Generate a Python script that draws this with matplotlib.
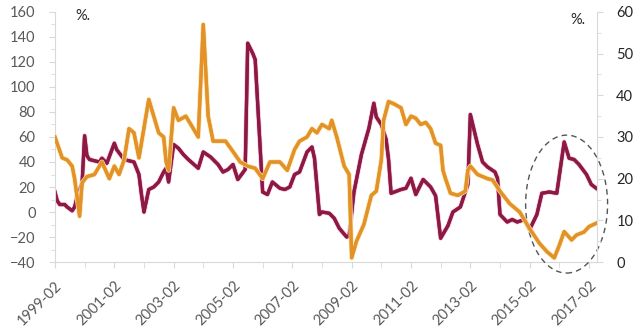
import matplotlib
matplotlib.use('Agg')
import matplotlib.pyplot as plt
import matplotlib.dates as mdates
import matplotlib.patheffects as pe
from matplotlib.patches import Ellipse
from matplotlib.ticker import MultipleLocator
import pandas as pd

plt.rcParams['font.family'] = ['Lato', 'DejaVu Sans']

# crimson series, left axis (%)
red_dates = ['1999-02', '1999-03', '1999-04', '1999-06', '1999-07', '1999-09', '1999-10', '1999-11',
             '2000-01', '2000-02', '2000-03', '2000-04', '2000-06', '2000-08', '2000-09', '2000-11',
             '2001-02', '2001-03', '2001-06', '2001-10', '2001-12', '2002-01', '2002-02', '2002-04',
             '2002-06', '2002-08', '2002-10', '2002-11', '2002-12', '2003-02', '2003-04', '2003-06',
             '2003-08', '2003-12', '2004-02', '2004-05', '2004-08', '2004-10', '2004-12', '2005-02',
             '2005-04', '2005-07', '2005-08', '2005-10', '2005-11', '2006-02', '2006-04', '2006-06',
             '2006-09', '2006-11', '2007-01', '2007-03', '2007-05', '2007-08', '2007-10', '2007-11',
             '2008-01', '2008-02', '2008-05', '2008-07', '2008-09', '2008-12', '2009-01', '2009-03',
             '2009-06', '2009-09', '2009-11', '2009-12', '2010-02', '2010-04', '2010-05', '2010-06',
             '2010-10', '2010-12', '2011-02', '2011-04', '2011-07', '2011-10', '2011-12', '2012-02',
             '2012-05', '2012-07', '2012-10', '2012-12', '2013-01', '2013-02', '2013-04', '2013-05',
             '2013-07', '2013-09', '2013-12', '2014-01', '2014-02', '2014-05', '2014-07', '2014-09',
             '2014-12', '2015-01', '2015-02', '2015-05', '2015-07', '2015-10', '2016-01', '2016-04',
             '2016-06', '2016-08', '2016-10', '2017-01', '2017-03', '2017-05']
red_vals = [16, 9, 6, 6, 4, 1, 4, 12,
            23, 61, 45, 42, 41, 40, 43, 39,
            55, 50, 42, 40, 30, 14, 0, 18,
            20, 24, 32, 35, 24, 54, 51, 46,
            42, 35, 48, 44, 38, 32, 34, 38,
            26, 34, 135, 127, 122, 16, 14, 24,
            19, 18, 20, 30, 32, 48, 52, 43,
            -2, 0, -1, -5, -13, -20, -19, 16,
            46, 67, 87, 76, 70, 58, 42, 15,
            18, 19, 27, 14, 26, 20, 13, -21,
            -11, 0, 4, 16, 22, 78, 62, 54,
            40, 36, 32, 27, -2, -8, -6, -8,
            -6, -10, -14, -2, 15, 16, 15, 56,
            43, 42, 38, 30, 22, 19]

# orange series, right axis (%)
org_dates = ['1999-02', '1999-05', '1999-07', '1999-09', '1999-10', '1999-12', '2000-01', '2000-03',
             '2000-06', '2000-08', '2000-09', '2000-12', '2001-02', '2001-04', '2001-06', '2001-08',
             '2001-10', '2001-12', '2002-04', '2002-08', '2002-10', '2002-11', '2002-12', '2003-02',
             '2003-04', '2003-07', '2003-09', '2003-12', '2004-02', '2004-04', '2004-06', '2004-09',
             '2004-11', '2005-02', '2005-05', '2005-08', '2005-11', '2006-02', '2006-05', '2006-09',
             '2006-12', '2007-03', '2007-05', '2007-08', '2007-10', '2007-12', '2008-02', '2008-05',
             '2008-06', '2008-08', '2008-11', '2009-01', '2009-02', '2009-04', '2009-07', '2009-10',
             '2009-12', '2010-02', '2010-03', '2010-05', '2010-07', '2010-10', '2010-12', '2011-02',
             '2011-04', '2011-06', '2011-08', '2011-10', '2011-12', '2012-02', '2012-03', '2012-04',
             '2012-06', '2012-09', '2012-12', '2013-01', '2013-02', '2013-05', '2013-09', '2013-11',
             '2014-02', '2014-06', '2014-10', '2015-02', '2015-06', '2015-09', '2015-12', '2016-02',
             '2016-04', '2016-07', '2016-09', '2016-12', '2017-02', '2017-05']
org_vals = [30, 25, 24.5, 23, 20, 11, 19, 20.5,
            21, 23, 24, 20, 23, 21, 24.5, 32,
            31, 25, 39, 31, 30, 24, 22, 37,
            34, 35, 33, 30, 57, 35, 29, 29,
            29, 26.5, 24, 23, 22.5, 20, 24, 24,
            22, 27, 29, 30, 32, 31, 33, 32,
            34, 30, 23, 21, 1, 5, 9, 16,
            17, 24.5, 34, 38.5, 38, 37, 33, 35,
            34.5, 33, 33.5, 32, 28.5, 28, 22, 20,
            16.5, 16, 17, 22, 23, 21, 20, 19.7,
            17, 14, 12, 8, 4.5, 2.5, 1, 4,
            7.3, 5.3, 6.5, 7.2, 8.5, 9.3]

tick_labels = ['1999-02', '2001-02', '2003-02', '2005-02', '2007-02',
               '2009-02', '2011-02', '2013-02', '2015-02', '2017-02']

red_x = pd.to_datetime(red_dates)
org_x = pd.to_datetime(org_dates)

fig = plt.figure(figsize=(6.39, 3.29), dpi=100)
ax = fig.add_axes([0.086, 0.2036, 0.848, 0.76])
ax2 = ax.twinx()

ax.plot(red_x, red_vals, color='#8C1846', lw=2.3, solid_joinstyle='round',
        path_effects=[pe.withStroke(linewidth=3.5, foreground='#f2c4d0'), pe.Normal()])
ax2.plot(org_x, org_vals, color='#E3922A', lw=2.3, solid_joinstyle='round',
         path_effects=[pe.withStroke(linewidth=3.5, foreground='#fbe3a8'), pe.Normal()])

ax.set_ylim(-40, 160)
ax2.set_ylim(0, 60)
ax.set_xlim(pd.Timestamp('1999-02-01'), pd.Timestamp('2017-05-08'))

ax.yaxis.set_major_locator(MultipleLocator(20))
ax.yaxis.set_minor_locator(MultipleLocator(10))
ax2.yaxis.set_major_locator(MultipleLocator(10))
ax2.yaxis.set_minor_locator(MultipleLocator(5))

ax.set_xticks(pd.to_datetime(tick_labels))
ax.set_xticklabels(tick_labels, rotation=45, ha='right', rotation_mode='anchor')
ax.xaxis.set_minor_locator(mdates.MonthLocator(bymonth=2))

spine_c = '#d9d9d9'
for a in (ax, ax2):
    a.spines['top'].set_visible(False)
    for s in a.spines.values():
        s.set_color(spine_c)
ax.spines['right'].set_visible(False)
ax2.spines['left'].set_visible(False)
ax2.spines['bottom'].set_visible(False)

fs = 10.5
ax.tick_params(axis='y', which='major', length=4, color=spine_c, labelcolor='#595959', labelsize=fs, pad=10)
ax.tick_params(axis='y', which='minor', length=3, color=spine_c)
ax.tick_params(axis='x', which='both', length=4, color=spine_c, labelcolor='#595959', labelsize=fs, pad=8)
ax2.tick_params(axis='y', which='major', length=4, color=spine_c, labelcolor='#262626', labelsize=fs, pad=10)
ax2.tick_params(axis='y', which='minor', length=3, color=spine_c)

fig.text(0.118, 0.95, '%.', fontsize=fs, color='#262626', va='center')
fig.text(0.893, 0.94, '%.', fontsize=fs, color='#262626', va='center')

# dashed circle around the recent divergence
ell = Ellipse((mdates.date2num(pd.Timestamp('2016-05-01')), 13.9), width=1009, height=33.1,
              fill=False, ls=(0, (4, 3)), lw=1.0, ec='#555555', clip_on=False)
ax2.add_patch(ell)

fig.savefig('out.png', dpi=100, facecolor='white')
